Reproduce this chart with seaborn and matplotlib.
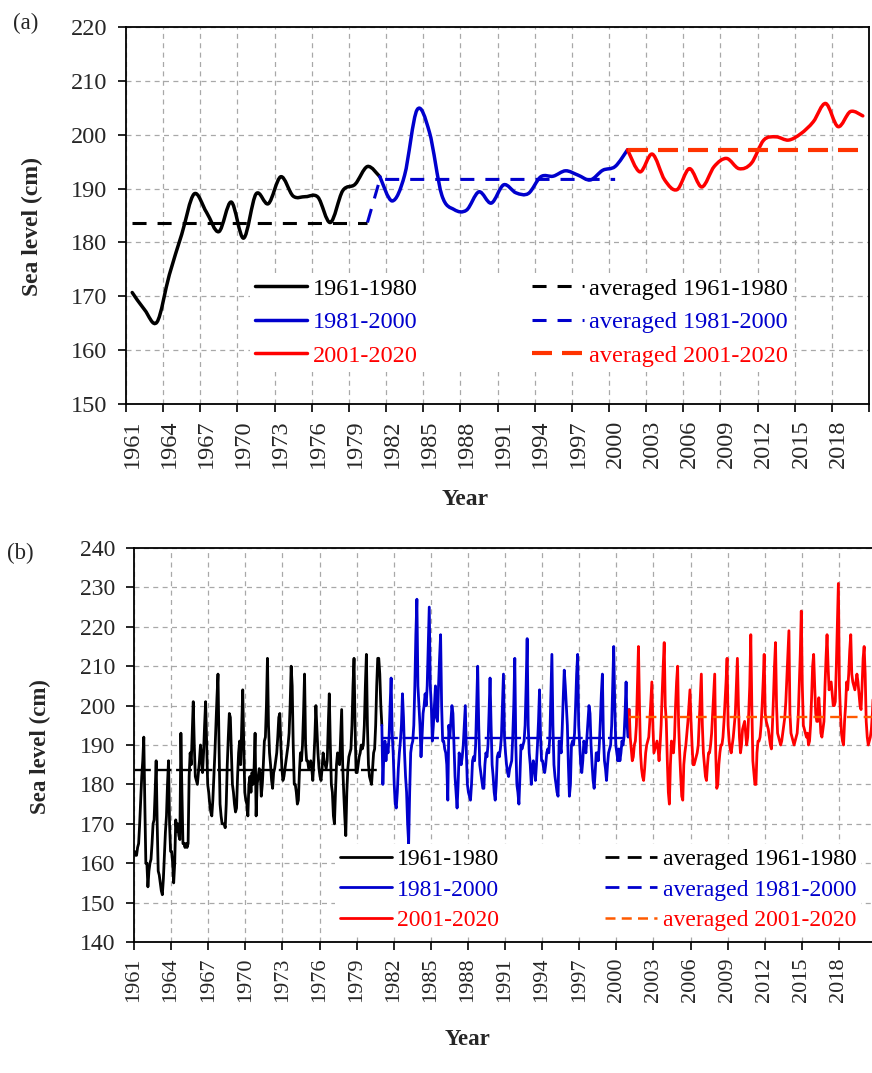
import numpy as np
import pandas as pd
import matplotlib
matplotlib.use("Agg")
import matplotlib.pyplot as plt
import seaborn as sns
from matplotlib.path import Path
from matplotlib.patches import PathPatch
from matplotlib.lines import Line2D

# ---------------- data ----------------
years = list(range(1961, 2021))

# panel (a): annual sea level (cm); each period repeats the first year of the next one
annual_1961_1980 = [170.7, 167.5, 165.2, 174.0, 181.5, 189.0, 185.6, 182.0, 187.5, 180.8,
                    189.0, 187.2, 192.2, 188.6, 188.5, 188.4, 183.7, 189.6, 190.8, 194.1, 192.2]
annual_1981_2000 = [192.2, 187.7, 192.5, 204.6, 200.5, 188.8, 186.1, 186.0, 189.4, 187.3,
                    190.7, 189.2, 189.1, 192.2, 192.3, 193.3, 192.5, 191.6, 193.4, 194.1, 197.2]
annual_2001_2020 = [197.2, 193.1, 196.4, 191.6, 189.8, 193.7, 190.3, 194.1, 195.6, 193.7,
                    194.7, 199.0, 199.6, 199.0, 200.2, 202.4, 205.8, 201.5, 204.3, 203.5]

avg_1961_1980 = 183.7
avg_1981_2000 = 191.7
avg_2001_2020 = 197.2

# panel (b): monthly sea level (cm), one row per year (Jan..Dec)
monthly_1961_1980 = [
    163, 162, 162, 164, 165, 170, 176, 182, 186, 192, 175, 160,   # 1961
    160, 154, 158, 160, 161, 165, 170, 171, 178, 186, 170, 158,   # 1962
    157, 155, 153, 152, 156, 162, 168, 172, 180, 186, 170, 163,   # 1963
    163, 160, 155, 160, 171, 168, 170, 167, 166, 193, 178, 165,   # 1964
    165, 164, 165, 164, 165, 182, 188, 185, 193, 201, 190, 182,   # 1965
    181, 180, 183, 186, 190, 187, 183, 188, 195, 201, 190, 180,   # 1966
    178, 175, 173, 172, 176, 182, 188, 195, 202, 208, 190, 175,   # 1967
    172, 170, 170, 170, 169, 175, 185, 192, 198, 197, 188, 180,   # 1968
    178, 175, 173, 174, 182, 188, 191, 185, 195, 204, 190, 178,   # 1969
    176, 175, 172, 180, 182, 178, 183, 180, 184, 193, 172, 180,   # 1970
    182, 184, 183, 177, 180, 185, 191, 192, 200, 212, 195, 188,   # 1971
    185, 181, 179, 183, 184, 186, 188, 192, 197, 198, 190, 184,   # 1972
    181, 182, 184, 186, 188, 190, 193, 200, 210, 205, 190, 180,   # 1973
    180, 178, 175, 176, 183, 188, 186, 190, 198, 208, 190, 186,   # 1974
    186, 184, 185, 186, 184, 181, 186, 192, 200, 194, 188, 184,   # 1975
    182, 181, 184, 188, 186, 185, 184, 186, 195, 203, 190, 180,   # 1976
    178, 172, 170, 178, 185, 188, 186, 185, 192, 199, 185, 178,   # 1977
    172, 167, 178, 184, 187, 188, 189, 195, 205, 212, 195, 183,   # 1978
    183, 185, 187, 188, 190, 189, 190, 195, 205, 213, 195, 185,   # 1979
    182, 181, 180, 184, 188, 189, 195, 205, 212, 212, 208, 200,   # 1980
]
monthly_1981_2000 = [
    195, 180, 188, 191, 186, 190, 188, 192, 200, 207, 193, 188,   # 1981
    180, 175, 174, 178, 184, 188, 191, 195, 203, 197, 188, 182,   # 1982
    178, 170, 165, 178, 188, 190, 191, 195, 205, 218, 227, 205,   # 1983
    200, 195, 187, 192, 198, 200, 203, 200, 205, 215, 225, 205,   # 1984
    200, 191, 195, 200, 205, 197, 196, 205, 212, 218, 200, 191,   # 1985
    191, 189, 188, 185, 176, 195, 192, 196, 200, 198, 190, 182,   # 1986
    178, 174, 180, 188, 186, 185, 187, 190, 195, 200, 188, 180,   # 1987
    178, 177, 176, 180, 186, 187, 186, 190, 200, 210, 195, 185,   # 1988
    183, 181, 179, 179, 185, 188, 187, 190, 198, 207, 195, 185,   # 1989
    182, 178, 176, 180, 187, 188, 187, 189, 192, 200, 208, 192,   # 1990
    188, 185, 183, 182, 184, 185, 186, 192, 200, 212, 190, 180,   # 1991
    178, 175, 182, 190, 189, 190, 191, 195, 205, 217, 195, 188,   # 1992
    185, 180, 184, 186, 184, 181, 185, 190, 196, 204, 192, 186,   # 1993
    186, 184, 183, 185, 188, 189, 188, 192, 202, 213, 195, 185,   # 1994
    182, 180, 178, 177, 191, 190, 188, 194, 202, 209, 205, 200,   # 1995
    195, 185, 177, 180, 190, 191, 190, 193, 200, 208, 213, 195,   # 1996
    190, 185, 183, 186, 191, 190, 188, 192, 196, 200, 198, 190,   # 1997
    185, 181, 179, 183, 188, 188, 186, 190, 196, 203, 208, 192,   # 1998
    186, 184, 181, 185, 188, 189, 190, 195, 205, 215, 200, 190,   # 1999
    188, 186, 189, 186, 188, 191, 190, 192, 198, 206, 195, 192,   # 2000
]
monthly_2001_2020 = [
    199, 192, 189, 186, 187, 190, 191, 195, 205, 215, 200, 188,   # 2001
    184, 182, 181, 184, 188, 190, 191, 192, 196, 201, 206, 195,   # 2002
    188, 189, 190, 191, 189, 186, 190, 195, 203, 210, 216, 200,   # 2003
    196, 186, 178, 175, 185, 191, 190, 188, 192, 200, 206, 210,   # 2004
    195, 188, 182, 177, 176, 185, 188, 190, 193, 196, 200, 204,   # 2005
    196, 190, 185, 185, 186, 187, 188, 190, 196, 202, 208, 195,   # 2006
    188, 185, 182, 181, 185, 188, 188, 190, 193, 198, 203, 208,   # 2007
    188, 179, 180, 185, 188, 190, 190, 192, 196, 201, 206, 212,   # 2008
    195, 191, 189, 188, 190, 192, 195, 198, 205, 212, 200, 192,   # 2009
    188, 190, 194, 195, 196, 193, 190, 192, 198, 205, 218, 200,   # 2010
    186, 183, 180, 180, 188, 191, 191, 192, 195, 200, 206, 213,   # 2011
    198, 196, 195, 194, 192, 190, 189, 195, 202, 210, 216, 200,   # 2012
    193, 192, 191, 190, 191, 193, 195, 197, 201, 207, 213, 219,   # 2013
    198, 193, 192, 191, 190, 191, 192, 193, 197, 205, 213, 224,   # 2014
    205, 195, 194, 193, 192, 193, 190, 191, 195, 202, 210, 213,   # 2015
    205, 198, 196, 196, 202, 198, 193, 192, 194, 196, 205, 212,   # 2016
    218, 210, 204, 205, 206, 203, 200, 200, 201, 210, 220, 231,   # 2017
    205, 198, 193, 191, 190, 196, 200, 206, 204, 208, 214, 218,   # 2018
    208, 206, 205, 204, 206, 208, 206, 203, 200, 199, 205, 212,   # 2019
    215, 208, 196, 192, 190, 191, 192, 194, 198, 204, 210, 212,   # 2020
]

labels_lines = ["1961-1980", "1981-2000", "2001-2020"]
labels_avg = ["averaged 1961-1980", "averaged 1981-2000", "averaged 2001-2020"]

# ---------------- style ----------------
BLACK = "#000000"
BLUE = "#0000CD"
RED = "#FF0000"
RED_AVG_A = "#FF3300"
RED_AVG_B = "#FF5A00"
GRID = "#A8A8A8"

sns.set_theme(style="white")
plt.rcParams["font.family"] = ["Liberation Serif", "DejaVu Serif"]
plt.rcParams["axes.axisbelow"] = True

W, H = 872, 1073
fig = plt.figure(figsize=(W / 100, H / 100), dpi=100)
fig.patch.set_facecolor("white")


def smooth_path(xs, ys):
    pts = np.column_stack([xs, ys]).astype(float)
    n = len(pts)
    verts = [pts[0]]
    codes = [Path.MOVETO]
    for i in range(n - 1):
        p0 = pts[i - 1] if i > 0 else pts[i]
        p1 = pts[i]
        p2 = pts[i + 1]
        p3 = pts[i + 2] if i + 2 < n else pts[i + 1]
        verts += [p1 + (p2 - p0) / 6.0, p2 - (p3 - p1) / 6.0, p2]
        codes += [Path.CURVE4] * 3
    return Path(verts, codes)


def style_axes(ax):
    for s in ax.spines.values():
        s.set_visible(True)
        s.set_color("black")
        s.set_linewidth(1.3)
    ax.grid(True, which="major", axis="both", color=GRID,
            linestyle=(0, (4, 3.5)), linewidth=0.9)
    ax.grid(False, which="minor")


# ---------------- panel (a) ----------------
axa = fig.add_axes([126 / W, 1 - 404 / H, 743 / W, 377 / H])
style_axes(axa)

n_a = len(years)
pos = np.arange(n_a) + 0.5  # category centres
segs = [
    (pos[0:21], annual_1961_1980, BLACK),
    (pos[20:41], annual_1981_2000, BLUE),
    (pos[40:60], annual_2001_2020, RED),
]
for xs, ys, c in segs:
    axa.add_patch(PathPatch(smooth_path(xs, ys), fill=False, edgecolor=c, lw=2.5,
                            capstyle="round", joinstyle="round", zorder=3))

dash_a = (0, (4.6, 3.6))
avg_a = pd.DataFrame({
    "x": list(pos[0:20]), "y": [avg_1961_1980] * 20})
sns.lineplot(data=avg_a, x="x", y="y", ax=axa, color=BLACK, lw=2.2,
             linestyle=dash_a, estimator=None, sort=False, zorder=4)
avg_b = pd.DataFrame({
    "x": list(pos[19:40]), "y": [avg_1961_1980] + [avg_1981_2000] * 20})
sns.lineplot(data=avg_b, x="x", y="y", ax=axa, color=BLUE, lw=2.2,
             linestyle=dash_a, estimator=None, sort=False, zorder=4)
avg_c = pd.DataFrame({
    "x": list(pos[40:60]), "y": [avg_2001_2020] * 20})
sns.lineplot(data=avg_c, x="x", y="y", ax=axa, color=RED_AVG_A, lw=3.0,
             linestyle=(0, (4.8, 2.4)), estimator=None, sort=False, zorder=4)

axa.set_xlim(0, n_a)
axa.set_ylim(150, 220)
axa.set_yticks(np.arange(150, 221, 10))
axa.set_xticks(np.arange(0, n_a + 1, 3))
axa.set_xticklabels([])
axa.set_xticks(pos[::3], minor=True)
axa.set_xticklabels([str(y) for y in years[::3]], minor=True, rotation=90)
axa.tick_params(axis="y", which="major", direction="out", length=5.5, width=1.2,
                color="black", labelsize=17.5, pad=8, left=True)
axa.tick_params(axis="x", which="major", direction="out", length=5.5, width=1.2,
                color="black", bottom=True)
axa.tick_params(axis="x", which="minor", length=0, labelsize=17.5, pad=11, bottom=True)
for t in axa.get_xticklabels(minor=True):
    t.set_va("top")
axa.set_ylabel("Sea level (cm)", fontsize=17, fontweight="bold")
axa.yaxis.set_label_coords(-0.112, 0.472)
axa.set_xlabel("Year", fontsize=17, fontweight="bold")
axa.xaxis.set_label_coords(0.456, -0.226)
axa.xaxis.label.set_va("top")

handles_a = [
    Line2D([], [], color=BLACK, lw=2.5),
    Line2D([], [], color=BLUE, lw=2.5),
    Line2D([], [], color=RED, lw=2.5),
    Line2D([], [], color=BLACK, lw=2.2, linestyle=dash_a),
    Line2D([], [], color=BLUE, lw=2.2, linestyle=dash_a),
    Line2D([], [], color=RED_AVG_A, lw=3.0, linestyle=(0, (4.8, 2.4))),
]
leg_a = axa.legend(handles_a, labels_lines + labels_avg, ncol=2, loc="upper left",
                   bbox_to_anchor=(250 / W, 1 - 273 / H), bbox_transform=fig.transFigure,
                   frameon=True, facecolor="white", edgecolor="none", framealpha=1,
                   fancybox=False, fontsize=17.5, handlelength=2.15, handletextpad=0.22,
                   columnspacing=4.7, labelspacing=0.47, borderpad=0.2, borderaxespad=0)
for t, c in zip(leg_a.get_texts(), [BLACK, BLUE, RED, BLACK, BLUE, RED]):
    t.set_color(c)

# ---------------- panel (b) ----------------
axb = fig.add_axes([134 / W, 1 - 942 / H, 742 / W, 394 / H])
style_axes(axb)

m1 = monthly_1961_1980
m2 = monthly_1981_2000
m3 = monthly_2001_2020
months = np.arange(len(m1) + len(m2) + len(m3)) + 0.5
n1, n2 = len(m1), len(m2)
df_b1 = pd.DataFrame({"x": months[0:n1 + 1], "y": m1 + m2[:1]})
df_b2 = pd.DataFrame({"x": months[n1:n1 + n2 + 1], "y": m2 + m3[:1]})
df_b3 = pd.DataFrame({"x": months[n1 + n2:], "y": m3})
for d, c in [(df_b1, BLACK), (df_b2, BLUE), (df_b3, RED)]:
    sns.lineplot(data=d, x="x", y="y", ax=axb, color=c, lw=2.0,
                 estimator=None, sort=False, zorder=3)

dash_b = (0, (6.7, 2.0))
dash_b_red = (0, (4.5, 2.6))
for xs, v, c, ls in [(months[0:n1], avg_1961_1980, BLACK, dash_b),
                     (months[n1:n1 + n2], avg_1981_2000, BLUE, dash_b),
                     (months[n1 + n2:], avg_2001_2020, RED_AVG_B, dash_b_red)]:
    d = pd.DataFrame({"x": xs, "y": [v] * len(xs)})
    sns.lineplot(data=d, x="x", y="y", ax=axb, color=c, lw=1.7, linestyle=ls,
                 estimator=None, sort=False, zorder=4)

n_m = len(months)
axb.set_xlim(0, n_m)
axb.set_ylim(140, 240)
axb.set_yticks(np.arange(140, 241, 10))
tick_pos_b = np.arange(0, n_m + 1, 36)
axb.set_xticks(tick_pos_b)
axb.set_xticklabels([str(y) for y in years[::3]] + [""], rotation=90)
axb.tick_params(axis="y", direction="out", length=5.5, width=1.2, color="black",
                labelsize=17, pad=8, left=True)
axb.tick_params(axis="x", direction="out", length=5.5, width=1.2, color="black",
                labelsize=16, pad=6, bottom=True)
axb.set_ylabel("Sea level (cm)", fontsize=16.5, fontweight="bold")
axb.yaxis.set_label_coords(-0.112, 0.495)
axb.set_xlabel("Year", fontsize=16.5, fontweight="bold")
axb.xaxis.set_label_coords(0.450, -0.222)
axb.xaxis.label.set_va("top")

handles_b = [
    Line2D([], [], color=BLACK, lw=2.0),
    Line2D([], [], color=BLUE, lw=2.0),
    Line2D([], [], color=RED, lw=2.0),
    Line2D([], [], color=BLACK, lw=2.0, linestyle=(0, (5.0, 3.0))),
    Line2D([], [], color=BLUE, lw=2.0, linestyle=(0, (5.0, 3.0))),
    Line2D([], [], color=RED_AVG_B, lw=1.8, linestyle=(0, (4.0, 2.5))),
]
leg_b = axb.legend(handles_b, labels_lines + labels_avg, ncol=2, loc="upper left",
                   bbox_to_anchor=(335 / W, 1 - 844 / H), bbox_transform=fig.transFigure,
                   frameon=True, facecolor="white", edgecolor="none", framealpha=1,
                   fancybox=False, fontsize=17, handlelength=2.2, handletextpad=0.22,
                   columnspacing=4.5, labelspacing=0.37, borderpad=0.2, borderaxespad=0)
for t, c in zip(leg_b.get_texts(), [BLACK, BLUE, RED, BLACK, BLUE, RED]):
    t.set_color(c)

# panel tags
fig.text(13 / W, 1 - 23 / H, "(a)", fontsize=16.5, va="center", ha="left")
fig.text(7 / W, 1 - 553 / H, "(b)", fontsize=16.5, va="center", ha="left")

fig.savefig("out.png", dpi=100, facecolor="white")
